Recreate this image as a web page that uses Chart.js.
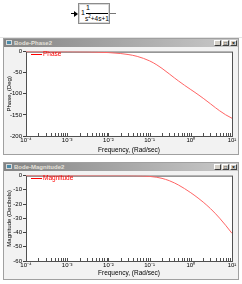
<!DOCTYPE html>
<html>
<head>
<meta charset="utf-8">
<script src="https://cdn.jsdelivr.net/npm/chart.js@4.4.0/dist/chart.umd.min.js"></script>
<style>
body { margin:0; width:242px; height:284px; background:#fff; position:relative; overflow:hidden; font-family:"Liberation Sans", Arial, sans-serif; }
.win { position:absolute; box-sizing:border-box; border:1px solid #a0a0a0; background:#f2f2f2; }
.bar { position:absolute; left:0; top:0; right:0; height:8px; background:linear-gradient(to right,#848484,#cacaca); color:#e4e1da; font-size:6px; font-weight:bold; line-height:8px; padding-left:10px; white-space:nowrap; }
.ico { position:absolute; left:2px; top:1px; width:6px; height:5px; background:#4a8aa8; border:1px solid #d8d8d8; box-sizing:border-box; }
.btn { position:absolute; top:1px; width:7px; height:6px; background:#d4d0c8; border:1px solid; border-color:#fff #404040 #404040 #fff; box-sizing:border-box; font-size:5px; line-height:5px; color:#000; text-align:center; font-weight:bold; }
canvas { position:absolute; }
.leg { position:absolute; color:#f00; font-size:6.5px; line-height:7px; white-space:nowrap; }
.leg i { display:inline-block; width:11px; height:1px; background:#f00; vertical-align:middle; margin-right:1px; }
</style>
</head>
<body>
<div style="position:absolute;left:0;top:37px;width:242px;height:1px;background:#e4e4e4"></div>

<div style="position:absolute;left:71px;top:13px;width:3px;height:1px;background:#000"></div>
<div style="position:absolute;left:74px;top:11px;width:0;height:0;border-top:3px solid transparent;border-bottom:3px solid transparent;border-left:4px solid #000"></div>
<div style="position:absolute;left:78px;top:3px;width:32px;height:21px;box-sizing:border-box;border:1px solid #8c8c8c;box-shadow:inset 0 0 0 1px #d8d8d8;background:#fff;color:#000">
  <div style="position:absolute;left:2px;top:5px;font-size:7px">1</div>
  <div style="position:absolute;left:7px;top:0px;font-size:7px">1</div>
  <div style="position:absolute;left:7px;top:9px;width:22px;height:1px;background:#000"></div>
  <div style="position:absolute;left:6px;top:10px;font-size:6.5px;white-space:nowrap">s<sup style="font-size:4.5px">2</sup>+4s+1</div>
</div>
<div style="position:absolute;left:110px;top:13px;width:6px;height:1px;background:#777"></div>

<div class="win" style="left:3px;top:38px;width:236px;height:117px">
  <div class="bar"><span class="ico"></span>Bode-Phase2
    <span class="btn" style="right:17px">_</span><span class="btn" style="right:9px">□</span><span class="btn" style="right:1px">×</span></div>
  <canvas id="phase" width="234" height="107" style="left:0;top:8px"></canvas>
  <div class="leg" style="left:27px;top:11px"><i></i>Phase</div>
</div>

<div class="win" style="left:3px;top:162px;width:236px;height:118px">
  <div class="bar"><span class="ico"></span>Bode-Magnitude2
    <span class="btn" style="right:17px">_</span><span class="btn" style="right:9px">□</span><span class="btn" style="right:1px">×</span></div>
  <canvas id="mag" width="234" height="108" style="left:0;top:8px"></canvas>
  <div class="leg" style="left:27px;top:11px"><i></i>Magnitude</div>
</div>

<script>
// frequency points (rad/sec)
var freq = [1e-4, 1e-3, 0.01, 0.02, 0.03, 0.05, 0.1, 0.15, 0.2, 0.3, 0.4, 0.5, 0.7, 1, 1.2, 1.5, 2, 3, 4, 5, 7, 10];
var phaseDeg = [0, -0.2, -2.3, -4.6, -6.9, -11.3, -22, -31.5, -39.8, -52.8, -62.3, -69.4, -79.7, -90, -95.2, -101.8, -110.6, -123.7, -133.2, -140.2, -149.7, -158];
var magDb = [0, 0, -0.01, -0.02, -0.05, -0.15, -0.57, -1.19, -1.94, -3.56, -5.14, -6.59, -9.08, -12.04, -13.66, -15.75, -18.63, -23.18, -26.82, -29.89, -34.9, -40.57];

var decades = [1e-4, 1e-3, 1e-2, 1e-1, 1, 10];
var decadeLabels = ['10⁻⁴', '10⁻³', '10⁻²', '10⁻¹', '10⁰', '10¹'];
var phaseTicks = [0, -50, -100, -150, -200];
var magTicks = [0, -10, -20, -30, -40, -50, -60];

Chart.defaults.font.family = '"Liberation Sans", Arial, sans-serif';
Chart.defaults.font.size = 6;
Chart.defaults.color = '#000';

var logTicks = [];
decades.forEach(function (d, i) {
    if (i < decades.length - 1) {
        for (var m = 1; m < 10; m++) logTicks.push(m * d);
    } else logTicks.push(d);
});

var decadeLabel = function (v) {
    for (var i = 0; i < decades.length; i++) {
        if (Math.abs(Math.log10(v) - Math.log10(decades[i])) < 1e-6) return decadeLabels[i];
    }
    return '';
};

// white plot area, frame and inward ticks on the frequency axis
var frame = {
    id: 'frame',
    beforeDatasetsDraw: function (chart) {
        var a = chart.chartArea, c = chart.ctx, x = chart.scales.x;
        c.save();
        c.fillStyle = '#fff';
        c.fillRect(a.left, a.top, a.right - a.left, a.bottom - a.top);
        c.strokeStyle = '#505050';
        c.lineWidth = 1;
        c.strokeRect(a.left + 0.5, a.top + 0.5, a.right - a.left, a.bottom - a.top);
        c.beginPath();
        x.ticks.forEach(function (t) {
            var px = Math.round(x.getPixelForValue(t.value)) + 0.5;
            c.moveTo(px, a.bottom);
            c.lineTo(px, a.bottom - 3);
        });
        c.stroke();
        c.restore();
    }
};

var makeChart = function (id, values, yTicks, yTitle, pad, titlePad) {
    return new Chart(document.getElementById(id), {
        type: 'line',
        data: {
            labels: freq,
            datasets: [{
                data: freq.map(function (f, i) { return {x: f, y: values[i]}; }),
                borderColor: '#ff6464',
                borderWidth: 1,
                pointRadius: 0,
                cubicInterpolationMode: 'monotone'
            }]
        },
        options: {
            responsive: false,
            animation: false,
            layout: {padding: pad},
            plugins: {legend: {display: false}, tooltip: {enabled: false}},
            scales: {
                x: {
                    type: 'logarithmic',
                    min: decades[0],
                    max: decades[decades.length - 1],
                    afterBuildTicks: function (s) { s.ticks = logTicks.map(function (v) { return {value: v}; }); },
                    afterFit: function (s) { s.height = 18; },
                    grid: {display: false, drawTicks: false, tickLength: 0},
                    border: {display: false},
                    ticks: {autoSkip: false, maxRotation: 0, padding: 1, callback: function (v) { return decadeLabel(v); }},
                    title: {display: true, text: 'Frequency, (Rad/sec)', font: {size: 6.5}, padding: titlePad}
                },
                y: {
                    min: yTicks[yTicks.length - 1],
                    max: yTicks[0],
                    afterBuildTicks: function (s) { s.ticks = yTicks.map(function (v) { return {value: v}; }); },
                    afterFit: function (s) { s.width = 22; },
                    grid: {drawOnChartArea: false, tickLength: 3, color: '#404040'},
                    border: {display: false},
                    ticks: {padding: 1},
                    title: {display: true, text: yTitle, font: {size: 6}, padding: {top: 2, bottom: 0}}
                }
            }
        },
        plugins: [frame]
    });
};

makeChart('phase', phaseDeg, phaseTicks, 'Phase, (Deg)', {left: 0, right: 6, top: 3, bottom: 0}, {top: 0, bottom: 0});
makeChart('mag', magDb, magTicks, 'Magnitude (Decibels)', {left: 0, right: 6, top: 2, bottom: 0}, {top: 0, bottom: 2});
</script>
</body>
</html>
